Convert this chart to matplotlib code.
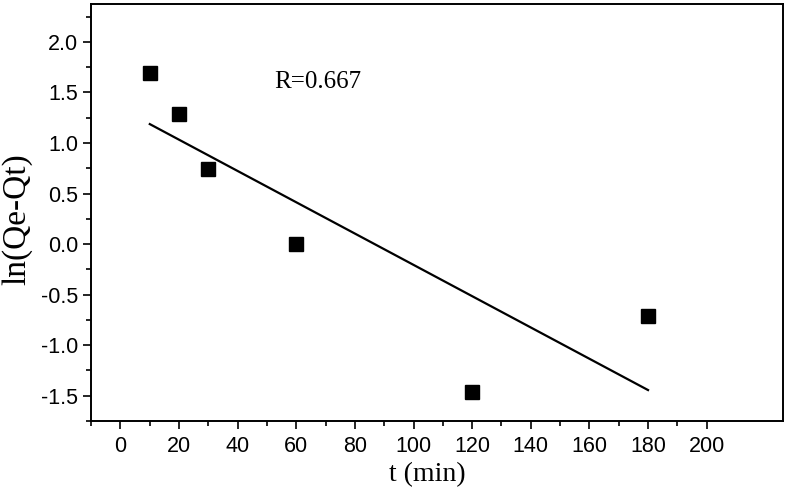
import numpy as np
import matplotlib.pyplot as plt

# data
t_min = [10, 20, 30, 60, 120, 180]
ln_qe_qt = [1.69, 1.29, 0.74, 0.0, -1.46, -0.71]
r_text = "R=0.667"
x_ticks = [0, 20, 40, 60, 80, 100, 120, 140, 160, 180, 200]
y_ticks = [-1.5, -1.0, -0.5, 0.0, 0.5, 1.0, 1.5, 2.0]

fig = plt.figure(figsize=(7.86, 4.93), dpi=100)
ax = fig.add_axes([0.116, 0.146, 0.88, 0.846])

# linear fit through the points
slope, intercept = np.polyfit(t_min, ln_qe_qt, 1)
xs = np.array([min(t_min), max(t_min)])
ax.plot(xs, slope * xs + intercept, color='black', lw=1.6)
ax.plot(t_min, ln_qe_qt, 's', color='black', markersize=9.5)

ax.text(52.5, 1.6, r_text, family='Liberation Serif', fontsize=18, va='center')

ax.set_xlim(-10, 226)
ax.set_ylim(-1.75, 2.375)
ax.set_xticks(x_ticks)
ax.set_xticks(np.arange(-10, 201, 10), minor=True)
ax.set_yticks(y_ticks)
ax.set_yticks(np.arange(-1.75, 2.3, 0.25), minor=True)
ax.set_yticklabels(['%.1f' % v for v in y_ticks])

for s in ax.spines.values():
    s.set_linewidth(1.4)
ax.tick_params(which='major', direction='out', length=6, width=1.2, labelsize=15.5)
ax.tick_params(axis='x', which='major', pad=5)
ax.tick_params(which='minor', direction='out', length=3.5, width=1.2)
for lab in ax.get_xticklabels() + ax.get_yticklabels():
    lab.set_family('Liberation Sans')

ax.set_xlabel('t (min)', family='Liberation Serif', fontsize=20)
ax.set_ylabel('ln(Qe-Qt)', family='Liberation Serif', fontsize=24)
ax.xaxis.set_label_coords(0.486, -0.098)
ax.yaxis.set_label_coords(-0.085, 0.484)

fig.savefig('out.png', dpi=100)
